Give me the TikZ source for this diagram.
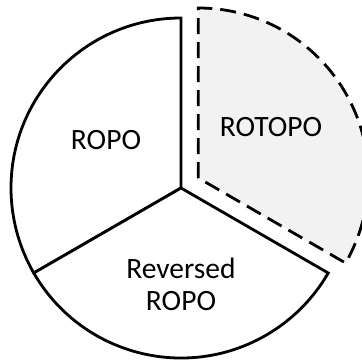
\documentclass[tikz,border=0pt]{standalone}
\usepackage{fontspec}
\usetikzlibrary{calc}
\setmainfont{Carlito}
\definecolor{sectorfill}{RGB}{242,242,242}
\begin{document}
\begin{tikzpicture}[x=1pt,y=1pt,
  sector/.style={draw=black,line width=2.8pt,fill=white},
  exploded/.style={draw=black,line width=2.8pt,fill=sectorfill,
    dash pattern=on 16pt off 8pt},
  label/.style={font=\fontsize{29.5}{32}\selectfont,align=center,inner sep=0pt}]
  \useasboundingbox (0,0) rectangle (362,360);
  \clip (0,0) rectangle (362,360);
  % pie centre and the pulled-out centre of the third slice
  \coordinate (C) at (181,172);
  \coordinate (E) at ($(C)+(30:20)$);
  % left slice
  \draw[sector] (C) -- ++(90:170) arc[start angle=90,end angle=210,radius=170] -- cycle;
  % bottom slice
  \draw[sector] (C) -- ++(210:170) arc[start angle=210,end angle=330,radius=170] -- cycle;
  % pulled-out slice
  \draw[exploded] (E) -- ++(90:170) arc[start angle=90,end angle=-30,radius=170] -- cycle;
  % slice labels
  \node[label] (ropo) at (106,220) {ROPO};
  \node[label] (rotopo) at (271,233) {ROTOPO};
  \node[label] (rev) at (181,76) {Reversed\\ROPO};
\end{tikzpicture}
\end{document}
